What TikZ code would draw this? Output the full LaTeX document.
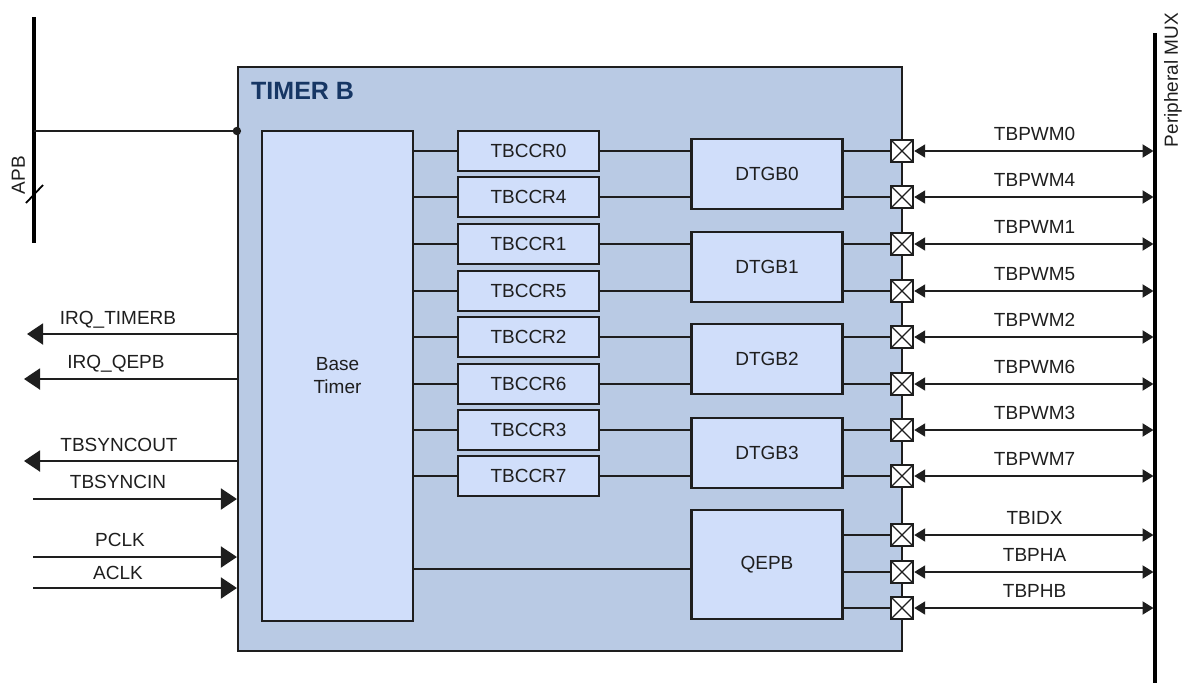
\documentclass[tikz,border=0pt]{standalone}
\usepackage{fontspec}
\setmainfont{Liberation Sans}
\usetikzlibrary{arrows.meta}
\definecolor{outerblue}{RGB}{185,202,228}
\definecolor{innerblue}{RGB}{208,222,250}
\definecolor{titleblue}{RGB}{22,54,100}
\definecolor{ink}{RGB}{30,30,30}
\begin{document}
\begin{tikzpicture}[x=1pt,y=-1pt,
  font=\fontsize{19}{23}\selectfont,
  every node/.style={text=ink},
  blk/.style={draw=ink, line width=2.2pt, fill=innerblue, inner sep=0pt, align=center},
  conn/.style={line width=2pt, draw=ink},
  lbl/.style={inner sep=0pt, text height=13.6pt, text depth=0pt},
  xbox/.style={draw=ink, line width=2.4pt, fill=white, minimum size=22pt, inner sep=0pt,
    path picture={\draw[line width=1.3pt, ink] (path picture bounding box.north west) -- (path picture bounding box.south east)
      (path picture bounding box.north east) -- (path picture bounding box.south west);}},
  bigarrow/.style={line width=2pt, draw=ink, -{Triangle[length=16pt,width=21pt]}},
  biarrow/.style={line width=2pt, draw=ink, {Triangle[length=11pt,width=13pt]}-{Triangle[length=11pt,width=13pt]}},
  bus/.style={line width=4pt, draw=black}
]
\useasboundingbox (0,0) rectangle (1183,683);

% APB bus
\coordinate (apbtop) at (34,17);
\coordinate (apbbot) at (34,243);
\draw[bus] (apbtop) -- (apbbot);
\coordinate (sl1) at (26,203);
\coordinate (sl2) at (43,185);
\draw[line width=1.8pt] (sl1) -- (sl2);
\node[lbl, rotate=90] (apb) at (18,175) {APB};

% Timer B frame
\node[draw=ink, line width=2.2pt, fill=outerblue, minimum width=664pt, minimum height=584pt, inner sep=0pt] (tmr) at (570,359) {};
\node[anchor=base west, inner sep=0pt, font=\bfseries\fontsize{25}{30}\selectfont, text=titleblue] (title) at (251,99) {TIMER B};

% APB connection
\coordinate (apbc) at (34,131);
\draw[conn] (apbc) -- (tmr.west |- apbc);
\fill[ink] (tmr.west |- apbc) circle (4.2pt);

% Base timer
\node[blk, minimum width=151pt, minimum height=490pt] (bt) at (337.5,376) {Base\\Timer};

% TBCCR blocks
\foreach \n/\y in {0/151,4/197,1/244,5/291,2/337,6/384,3/430,7/476}{
  \node[blk, minimum width=141pt, minimum height=40pt] (c\n) at (528.5,\y) {TBCCR\n};
  \draw[conn] (bt.east |- c\n) -- (c\n.west);
}

% DTGB blocks
\foreach \n/\y in {0/174,1/267,2/359,3/453}{
  \node[blk, minimum width=151pt, minimum height=70pt] (d\n) at (767,\y) {DTGB\n};
}
\node[blk, minimum width=151pt, minimum height=109pt] (qepb) at (767,564.5) {QEPB};

% TBCCR to DTGB
\foreach \c/\d in {0/0,4/0,1/1,5/1,2/2,6/2,3/3,7/3}{
  \draw[conn] (c\c.east) -- (c\c.east -| d\d.west);
}

% Base timer to QEPB
\coordinate (qy) at (0,569);
\draw[conn] (bt.east |- qy) -- (qepb.west |- qy);

% Peripheral MUX bus
\coordinate (muxtop) at (1155,33);
\coordinate (muxbot) at (1155,683);
\draw[bus] (muxtop) -- (muxbot);
\node[lbl, rotate=90] (mux) at (1171,80) {Peripheral MUX};

% Pads and outputs
\foreach \i/\y/\src/\txt in {0/151/d0/TBPWM0,1/197/d0/TBPWM4,2/244/d1/TBPWM1,3/291/d1/TBPWM5,
  4/337/d2/TBPWM2,5/384/d2/TBPWM6,6/430/d3/TBPWM3,7/476/d3/TBPWM7,8/535/qepb/TBIDX,9/572/qepb/TBPHA,10/608/qepb/TBPHB}{
  \draw[conn] (\src.east |- 0,\y) -- (902,\y);
  \node[xbox] (x\i) at (902,\y) {};
  \draw[biarrow, shorten >=1.5pt] (x\i.east) -- (x\i.east -| muxtop)
     node[lbl, pos=0.5, anchor=base, yshift=11pt] (t\i) {\txt};
}

% Left side signals
\coordinate (irq1) at (27,334);
\coordinate (irq2) at (24,379);
\coordinate (sout) at (24,461);
\coordinate (sin) at (33,499);
\coordinate (pclk) at (33,557);
\coordinate (aclk) at (33,588);
\draw[bigarrow] (tmr.west |- irq1) -- (irq1);
\draw[bigarrow] (tmr.west |- irq2) -- (irq2);
\draw[bigarrow] (tmr.west |- sout) -- (sout);
\draw[bigarrow] (sin) -- (tmr.west |- sin);
\draw[bigarrow] (pclk) -- (tmr.west |- pclk);
\draw[bigarrow] (aclk) -- (tmr.west |- aclk);
\node[lbl] (lirq1) at (118,318) {IRQ\_TIMERB};
\node[lbl] (lirq2) at (116,362) {IRQ\_QEPB};
\node[lbl] (lsout) at (119,445) {TBSYNCOUT};
\node[lbl] (lsin) at (118,482) {TBSYNCIN};
\node[lbl] (lpclk) at (120,540) {PCLK};
\node[lbl] (laclk) at (118,573) {ACLK};
\end{tikzpicture}
\end{document}
